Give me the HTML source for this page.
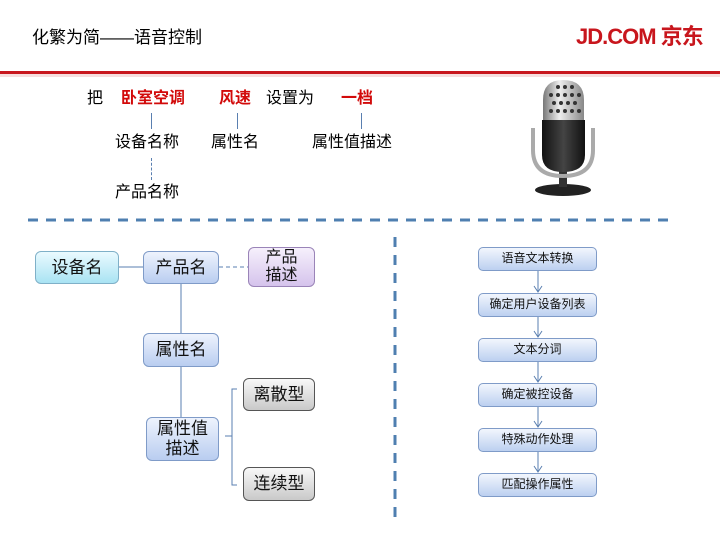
<!DOCTYPE html>
<html><head><meta charset="utf-8"><style>
body{margin:0;width:720px;height:540px;background:#fff;position:relative;overflow:hidden;font-family:"Liberation Sans","Noto Sans CJK SC",sans-serif;}
.t{position:absolute;white-space:nowrap;line-height:1;}
.b{position:absolute;box-sizing:border-box;border-radius:6px;display:flex;align-items:center;justify-content:center;text-align:center;color:#111;line-height:1.15;}
.bl{border:1px solid #7f9bc8;background:linear-gradient(#eef3fd,#b9cdf0);font-size:17px;}
.fl{border:1px solid #7f9bc8;background:linear-gradient(#f2f6fd,#bcd0f0);font-size:12px;left:478px;width:119px;height:24px;border-radius:5px;}
.gr{border:1px solid #555;background:linear-gradient(#f8f8f8,#c9c9c9);font-size:17px;}
.l{position:absolute;background:#5a7fb0;}
.red{color:#d20a0a;font-weight:bold;}
</style></head><body>
<div class="t" style="left:32px;top:29px;font-size:17px;">化繁为简——语音控制</div>
<div class="t" style="left:576px;top:26px;font-size:22px;color:#c8161d;font-weight:bold;letter-spacing:-1px;">JD.COM 京东</div>
<div style="position:absolute;left:0;top:71px;width:720px;height:3px;background:#c8161d;"></div>
<div style="position:absolute;left:0;top:74px;width:720px;height:3px;background:#f6dede;"></div>

<div class="t" style="left:87px;top:91px;font-size:16px;">把</div>
<div class="t red" style="left:121px;top:91px;font-size:16px;">卧室空调</div>
<div class="t red" style="left:219px;top:91px;font-size:16px;">风速</div>
<div class="t" style="left:266px;top:91px;font-size:16px;">设置为</div>
<div class="t red" style="left:341px;top:91px;font-size:16px;">一档</div>
<div class="l" style="left:151px;top:113px;width:1px;height:16px;"></div>
<div class="l" style="left:237px;top:113px;width:1px;height:16px;"></div>
<div class="l" style="left:361px;top:113px;width:1px;height:16px;"></div>
<div class="t" style="left:115px;top:135px;font-size:16px;">设备名称</div>
<div class="t" style="left:211px;top:135px;font-size:16px;">属性名</div>
<div class="t" style="left:312px;top:135px;font-size:16px;">属性值描述</div>
<div style="position:absolute;left:151px;top:158px;height:22px;border-left:1px dashed #5a7fb0;"></div>
<div class="t" style="left:115px;top:185px;font-size:16px;">产品名称</div>

<svg style="position:absolute;left:0;top:0" width="720" height="540">
<line x1="28" y1="220" x2="672" y2="220" stroke="#4f7fb0" stroke-width="3" stroke-dasharray="10,8"/>
<line x1="395" y1="237" x2="395" y2="520" stroke="#4f7fb0" stroke-width="3" stroke-dasharray="10,8"/>
<line x1="119" y1="267" x2="143" y2="267" stroke="#5a7fb0"/>
<line x1="219" y1="267" x2="248" y2="267" stroke="#5a7fb0" stroke-dasharray="4,3"/>
<line x1="181" y1="284" x2="181" y2="333" stroke="#5a7fb0"/>
<line x1="181" y1="367" x2="181" y2="417" stroke="#5a7fb0"/>
<path d="M237 389 H232 V485 H237 M232 436 H225" fill="none" stroke="#5a7fb0"/>
<g stroke="#5a7fb0" fill="none">
<path d="M538 271 V292 M534 286 L538 292 L542 286"/>
<path d="M538 317 V337 M534 331 L538 337 L542 331"/>
<path d="M538 362 V382 M534 376 L538 382 L542 376"/>
<path d="M538 407 V427 M534 421 L538 427 L542 421"/>
<path d="M538 452 V472 M534 466 L538 472 L542 466"/>
</g>
<defs>
<linearGradient id="g1" x1="0" x2="1"><stop offset="0" stop-color="#777"/><stop offset="0.4" stop-color="#eee"/><stop offset="1" stop-color="#888"/></linearGradient>
<linearGradient id="g2" x1="0" x2="1"><stop offset="0" stop-color="#111"/><stop offset="0.5" stop-color="#444"/><stop offset="1" stop-color="#111"/></linearGradient>
</defs>
<ellipse cx="563" cy="190" rx="28" ry="6" fill="#222"/>
<rect x="559" y="170" width="8" height="17" fill="#333"/>
<path d="M533 128 V150 Q533 176 563 176 Q593 176 593 150 V128" fill="none" stroke="#aaa" stroke-width="4"/>
<path d="M543 100 Q543 80 563 80 Q584 80 584 100 V122 H543 Z" fill="url(#g1)"/>
<g fill="#333">
<circle cx="551" cy="95" r="2"/><circle cx="558" cy="95" r="2"/><circle cx="565" cy="95" r="2"/><circle cx="572" cy="95" r="2"/><circle cx="579" cy="95" r="2"/>
<circle cx="554" cy="103" r="2"/><circle cx="561" cy="103" r="2"/><circle cx="568" cy="103" r="2"/><circle cx="575" cy="103" r="2"/>
<circle cx="551" cy="111" r="2"/><circle cx="558" cy="111" r="2"/><circle cx="565" cy="111" r="2"/><circle cx="572" cy="111" r="2"/><circle cx="579" cy="111" r="2"/>
<circle cx="558" cy="87" r="2"/><circle cx="565" cy="87" r="2"/><circle cx="572" cy="87" r="2"/>
</g>
<path d="M542 120 H585 V155 Q585 172 563 172 Q542 172 542 155 Z" fill="url(#g2)"/>
</svg>

<div class="b" style="left:35px;top:251px;width:84px;height:33px;border:1px solid #7fb0c8;background:linear-gradient(#eafaff,#a9e3f3);font-size:17px;">设备名</div>
<div class="b bl" style="left:143px;top:251px;width:76px;height:33px;">产品名</div>
<div class="b" style="left:248px;top:247px;width:67px;height:40px;border:1px solid #9a84b8;background:linear-gradient(#f6f0fc,#d5c3ec);font-size:16px;">产品<br>描述</div>
<div class="b bl" style="left:143px;top:333px;width:76px;height:34px;">属性名</div>
<div class="b bl" style="left:146px;top:417px;width:73px;height:44px;">属性值<br>描述</div>
<div class="b gr" style="left:243px;top:378px;width:72px;height:33px;">离散型</div>
<div class="b gr" style="left:243px;top:467px;width:72px;height:34px;">连续型</div>

<div class="b fl" style="top:247px;">语音文本转换</div>
<div class="b fl" style="top:293px;">确定用户设备列表</div>
<div class="b fl" style="top:338px;">文本分词</div>
<div class="b fl" style="top:383px;">确定被控设备</div>
<div class="b fl" style="top:428px;">特殊动作处理</div>
<div class="b fl" style="top:473px;">匹配操作属性</div>
</body></html>
